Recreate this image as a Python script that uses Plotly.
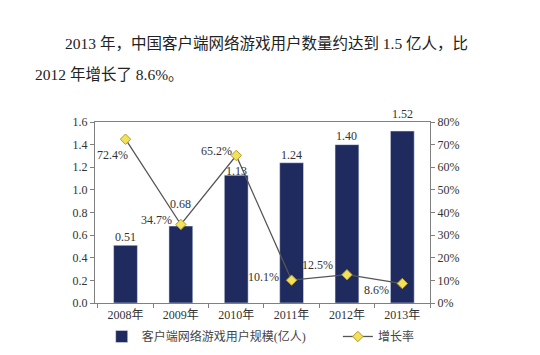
import plotly.graph_objects as go

years = ["2008年", "2009年", "2010年", "2011年", "2012年", "2013年"]
users = [0.51, 0.68, 1.13, 1.24, 1.40, 1.52]
growth = [72.4, 34.7, 65.2, 10.1, 12.5, 8.6]
# label offsets (pixels) relative to the mark
users_label_shift = [8, 22, 4, 8, 9, 17]
growth_label_shift = [(-13, -16), (-24, 4), (-20, 4), (-28, 3), (-29, 10), (-26, -6)]

serif = "Liberation Serif, Noto Sans CJK SC, serif"

fig = go.Figure()
fig.add_trace(go.Bar(
    x=years, y=users, name="客户端网络游戏用户规模(亿人)",
    marker=dict(color="#1f2b5e"), width=0.43, legend="legend",
))
fig.add_trace(go.Scatter(
    x=years, y=growth, name="增长率", yaxis="y2", mode="lines+markers",
    line=dict(color="#555555", width=1.3),
    marker=dict(symbol="diamond", size=8, color="#f2e15a", line=dict(color="#b59b2a", width=1)),
    cliponaxis=False, legend="legend2",
))

for yr, v, s in zip(years, users, users_label_shift):
    fig.add_annotation(x=yr, y=v, xref="x", yref="y", text=f"{v:.2f}", showarrow=False,
                       yanchor="middle", yshift=s,
                       font=dict(family=serif, size=12, color="#333"))
for yr, v, (dx, dy) in zip(years, growth, growth_label_shift):
    fig.add_annotation(x=yr, y=v, xref="x", yref="y2", text=f"{v:.1f}%", showarrow=False,
                       yanchor="middle", xshift=dx, yshift=dy,
                       font=dict(family=serif, size=12, color="#333"))

legend_common = dict(orientation="h", y=-0.185, xanchor="left", yanchor="middle",
                     font=dict(family=serif, size=12, color="#444"), itemwidth=30,
                     bgcolor="rgba(0,0,0,0)")

fig.update_layout(
    width=540, height=355,
    margin=dict(l=87, r=118, t=114, b=56),
    paper_bgcolor="white", plot_bgcolor="white",
    font=dict(family=serif, size=12, color="#333"),
    showlegend=True,
    legend=dict(x=0.02, **legend_common),
    legend2=dict(x=0.725, **legend_common),
    xaxis=dict(type="category", showline=True, linecolor="#808080", linewidth=1.2, mirror=True,
               ticks="outside", tickson="boundaries", ticklen=4, tickcolor="#808080",
               tickfont=dict(family=serif, size=12, color="#333")),
    yaxis=dict(range=[0, 1.6], dtick=0.2, tickformat=".1f", showgrid=False, zeroline=False,
               showline=True, linecolor="#808080", linewidth=1.2, ticks="outside", ticklen=4,
               tickcolor="#808080", tickfont=dict(family=serif, size=12, color="#333")),
    yaxis2=dict(range=[0, 80], dtick=10, ticksuffix="%", overlaying="y", side="right",
                showgrid=False, zeroline=False, showline=True, linecolor="#808080", linewidth=1.2,
                ticks="outside", ticklen=4, tickcolor="#808080",
                tickfont=dict(family=serif, size=12, color="#333")),
    bargap=0.5,
)

fig.add_annotation(text="2013 年，中国客户端网络游戏用户数量约达到 1.5 亿人，比",
                   xref="paper", yref="paper", x=-0.0955, y=1.432, xanchor="left", yanchor="middle",
                   showarrow=False, font=dict(family=serif, size=15.5, color="#222"))
fig.add_annotation(text="2012 年增长了 8.6%。",
                   xref="paper", yref="paper", x=-0.185, y=1.265, xanchor="left", yanchor="middle",
                   showarrow=False, font=dict(family=serif, size=15.5, color="#222"))

fig.write_html("out.html")
